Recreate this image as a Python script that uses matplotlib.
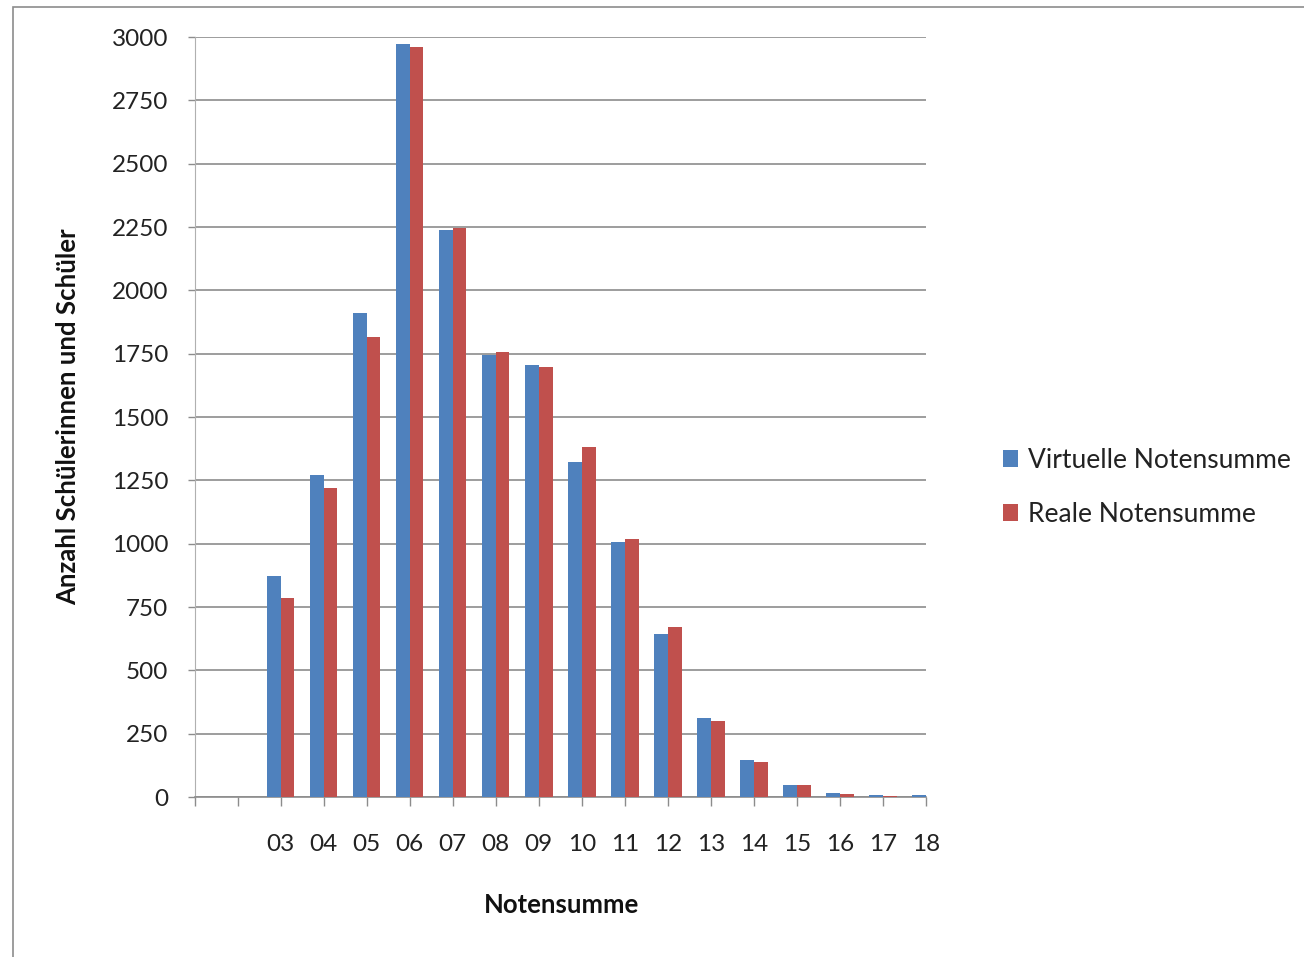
import matplotlib
matplotlib.use("Agg")
import matplotlib.pyplot as plt
import numpy as np
from matplotlib.patches import Rectangle

categories = ["", "", "03", "04", "05", "06", "07", "08", "09", "10",
              "11", "12", "13", "14", "15", "16", "17", "18"]
virtuelle = [0, 0, 873, 1272, 1912, 2972, 2238, 1745, 1705, 1321,
             1005, 643, 311, 146, 47, 15, 6, 6]
reale = [0, 0, 784, 1220, 1817, 2959, 2245, 1758, 1698, 1380,
         1020, 670, 300, 137, 47, 11, 5, 0]
yticks = [0, 250, 500, 750, 1000, 1250, 1500, 1750, 2000, 2250, 2500, 2750, 3000]

plt.rcParams['font.family'] = ['Lato', 'DejaVu Sans']

W, H = 1304, 957
fig = plt.figure(figsize=(W / 100, H / 100), dpi=100)
fig.patch.set_facecolor("white")

# outer chart border
fig.patches.append(Rectangle((13 / W, -0.01), 1.2, 1 - 7 / H + 0.01,
                             transform=fig.transFigure, fill=False,
                             edgecolor="#8c8c8c", linewidth=1.2))

left, right = 194.5 / W, 926 / W
bottom, top = 1 - 797 / H, 1 - 37 / H
ax = fig.add_axes([left, bottom, right - left, top - bottom])

x = np.arange(len(categories))
w = 0.32
ax.bar(x - w / 2, virtuelle, width=w, color="#4F81BD", label="Virtuelle Notensumme", zorder=3)
ax.bar(x + w / 2, reale, width=w, color="#C0504D", label="Reale Notensumme", zorder=3)

ax.set_xlim(0, len(categories) - 1)
ax.set_ylim(0, 3000)
ax.set_yticks(yticks)
ax.set_yticklabels([str(v) for v in yticks], fontsize=17.5, color="#222222")
ax.set_xticks(x)
ax.set_xticklabels(categories, fontsize=17.5, color="#222222")
ax.tick_params(axis="x", length=6.5, width=1, color="#8c8c8c", pad=20)
ax.tick_params(axis="y", length=5, width=1, color="#8c8c8c", pad=14)

ax.grid(axis="y", color="#8c8c8c", linewidth=1.2, zorder=0)
ax.set_axisbelow(True)
for s in ["top", "right"]:
    ax.spines[s].set_visible(False)
ax.spines["left"].set_color("#b0b0b0")
ax.spines["bottom"].set_color("#8c8c8c")
ax.spines["bottom"].set_linewidth(1.2)

ax.set_ylabel("Anzahl Schülerinnen und Schüler", fontsize=18.5, fontweight="bold",
              color="#111111")
ax.yaxis.set_label_coords((80 - 194.5) / (926 - 194.5), 0.5)
ax.set_xlabel("Notensumme", fontsize=18.5, fontweight="bold", color="#111111")
ax.xaxis.set_label_coords((562 - 194.5) / (926 - 194.5), -(893 - 797) / 760)

leg = fig.legend(loc="upper left", bbox_to_anchor=(992 / W, 1 - 437 / H),
                 frameon=False, fontsize=19, handlelength=0.6, handleheight=0.6,
                 handletextpad=0.35, labelspacing=1.1, borderaxespad=0)
for t in leg.get_texts():
    t.set_color("#222222")

fig.savefig("out.png", dpi=100)
